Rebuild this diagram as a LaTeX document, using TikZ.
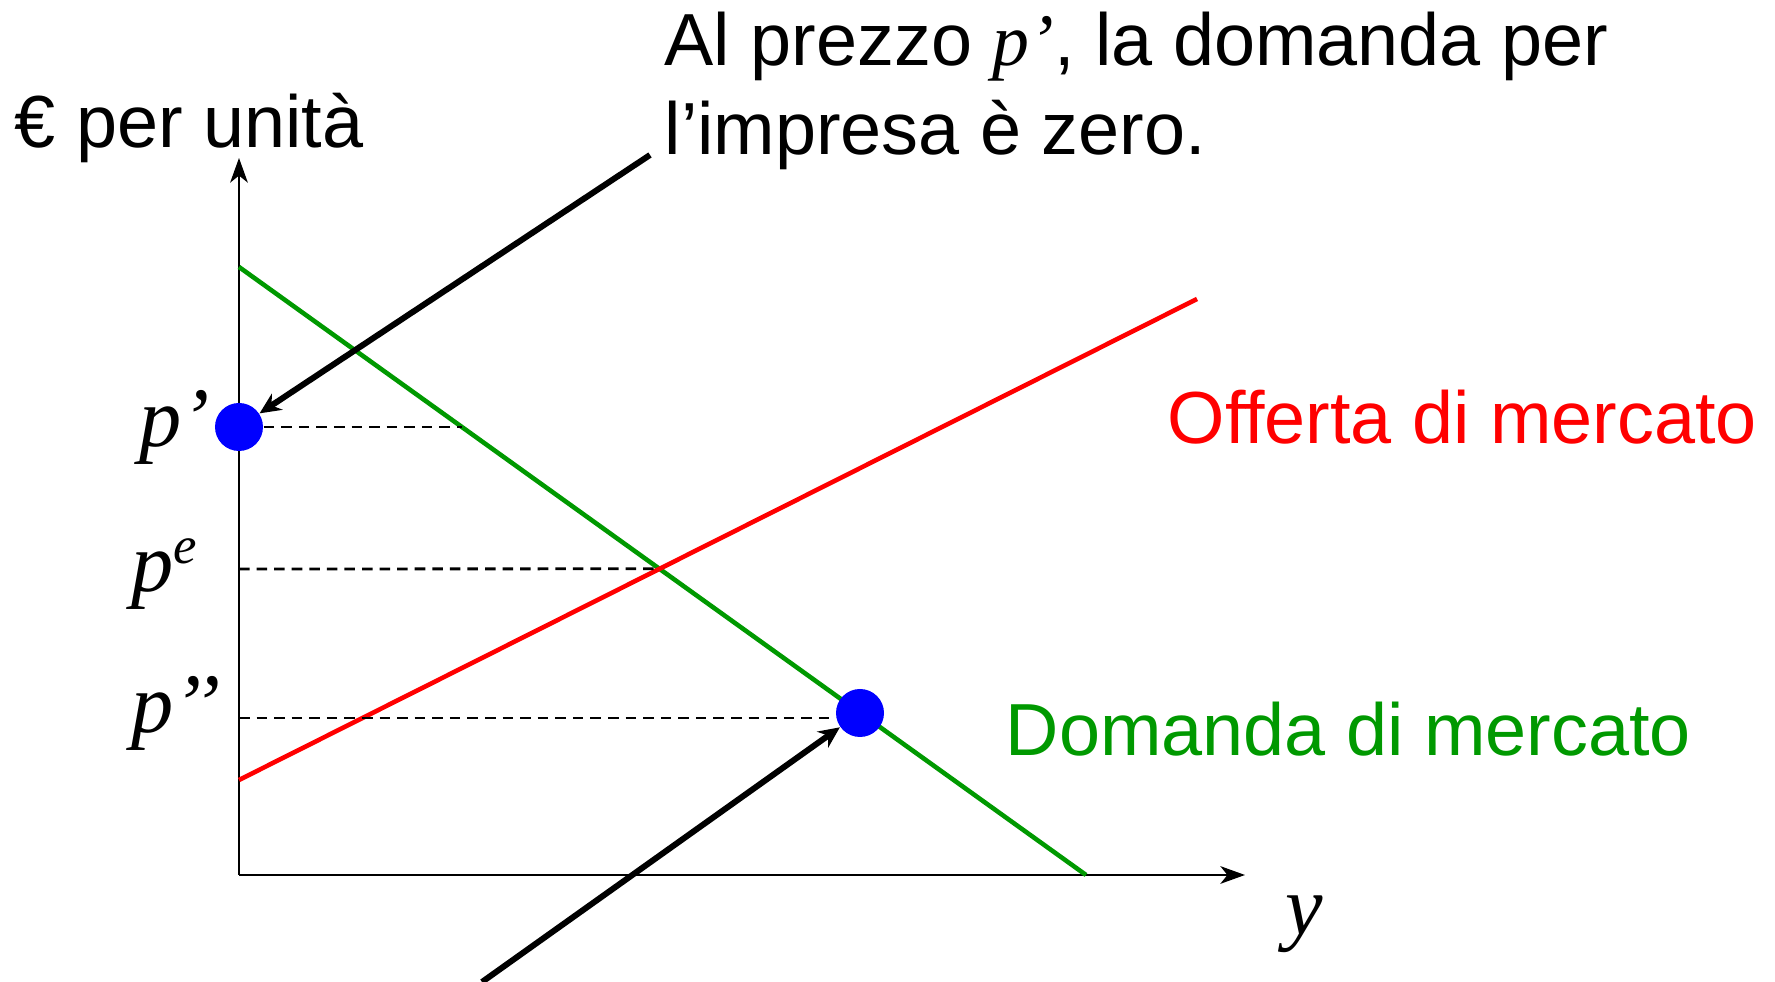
\documentclass[tikz,border=0pt]{standalone}
\usepackage{fontspec}
\setmainfont{Liberation Sans}
\newfontfamily\labelfont{Liberation Serif}
\usetikzlibrary{arrows.meta,positioning}
\definecolor{mktgreen}{HTML}{009900}
\definecolor{mktred}{HTML}{FF0000}
\definecolor{mktblue}{HTML}{0000FF}

\begin{document}
\begin{tikzpicture}[
  axis/.style={line width=0.8pt,-{Stealth[length=7pt,width=5pt,inset=2pt]}},
  curve/.style={line width=1.3pt},
  guide/.style={dash pattern=on 3pt off 2pt,line width=0.8pt},
  dot/.style={circle,fill=mktblue,minimum size=4.8mm,inner sep=0pt},
  callout/.style={line width=1.7pt,-{Stealth[length=6pt,width=5.5pt]}},
  lab/.style={inner sep=0pt,font=\fontsize{24}{28}\selectfont\labelfont\itshape},
  txt/.style={inner sep=0pt,font=\fontsize{21}{25}\selectfont}]
  \useasboundingbox (-2.39,-1.07) rectangle (15.36,8.75);
  % axes
  \coordinate (O) at (0,0);
  \coordinate (ytip) at (0,7.17);
  \coordinate (xtip) at (10.06,0);
  \draw[axis] (O) -- (ytip);
  \draw[axis] (O) -- (xtip);
  \node[txt,anchor=base west] (ylab) at (-2.25,7.27) {€ per unità};
  \node[lab,anchor=base west] (xlab) at (10.46,-0.60) {y};
  % market curves
  \coordinate (dtop) at (0,6.08);
  \coordinate (dbot) at (8.47,0);
  \coordinate (sbot) at (0,0.95);
  \coordinate (stop) at (9.58,5.76);
  \draw[curve,mktgreen] (dtop) -- (dbot);
  \draw[curve,mktred] (sbot) -- (stop);
  \node[txt,text=mktred,anchor=base west] (supply) at (9.28,4.31) {Offerta di mercato};
  \node[txt,text=mktgreen,anchor=base west] (demand) at (7.66,1.19) {Domanda di mercato};
  % prices
  \node[dot] (dotp) at (0,4.48) {};
  \node[dot] (dotpp) at (6.21,1.62) {};
  \coordinate (dp) at (2.229,4.48);
  \coordinate (pe) at (0,3.06);
  \coordinate (eq) at (4.205,3.062);
  \coordinate (ppp) at (0,1.57);
  \draw[guide] (dotp) -- (dp);
  \draw[guide] (pe) -- (eq);
  \draw[guide] (ppp) -- (ppp -| dotpp.west);
  \node[lab,anchor=base east] (lp1) at (-0.29,4.28) {p’};
  \node[lab,anchor=base east] (lpe) at (-0.41,2.83) {p\raisebox{8pt}{\fontsize{15}{15}\selectfont e}};
  \node[lab,anchor=base east] (lp2) at (-0.18,1.42) {p’’};
  % callouts
  \node[txt,anchor=base west] (note1) at (4.25,8.09)
    {Al prezzo {\labelfont\itshape p’}, la domanda per};
  \node[txt,anchor=base west] (note2) at (4.25,7.20) {l’impresa è zero.};
  \coordinate (c1) at (4.11,7.20);
  \coordinate (c2) at (2.43,-1.07);
  \draw[callout] (c1) -- (dotp);
  \draw[callout] (c2) -- (dotpp);
\end{tikzpicture}
\end{document}
